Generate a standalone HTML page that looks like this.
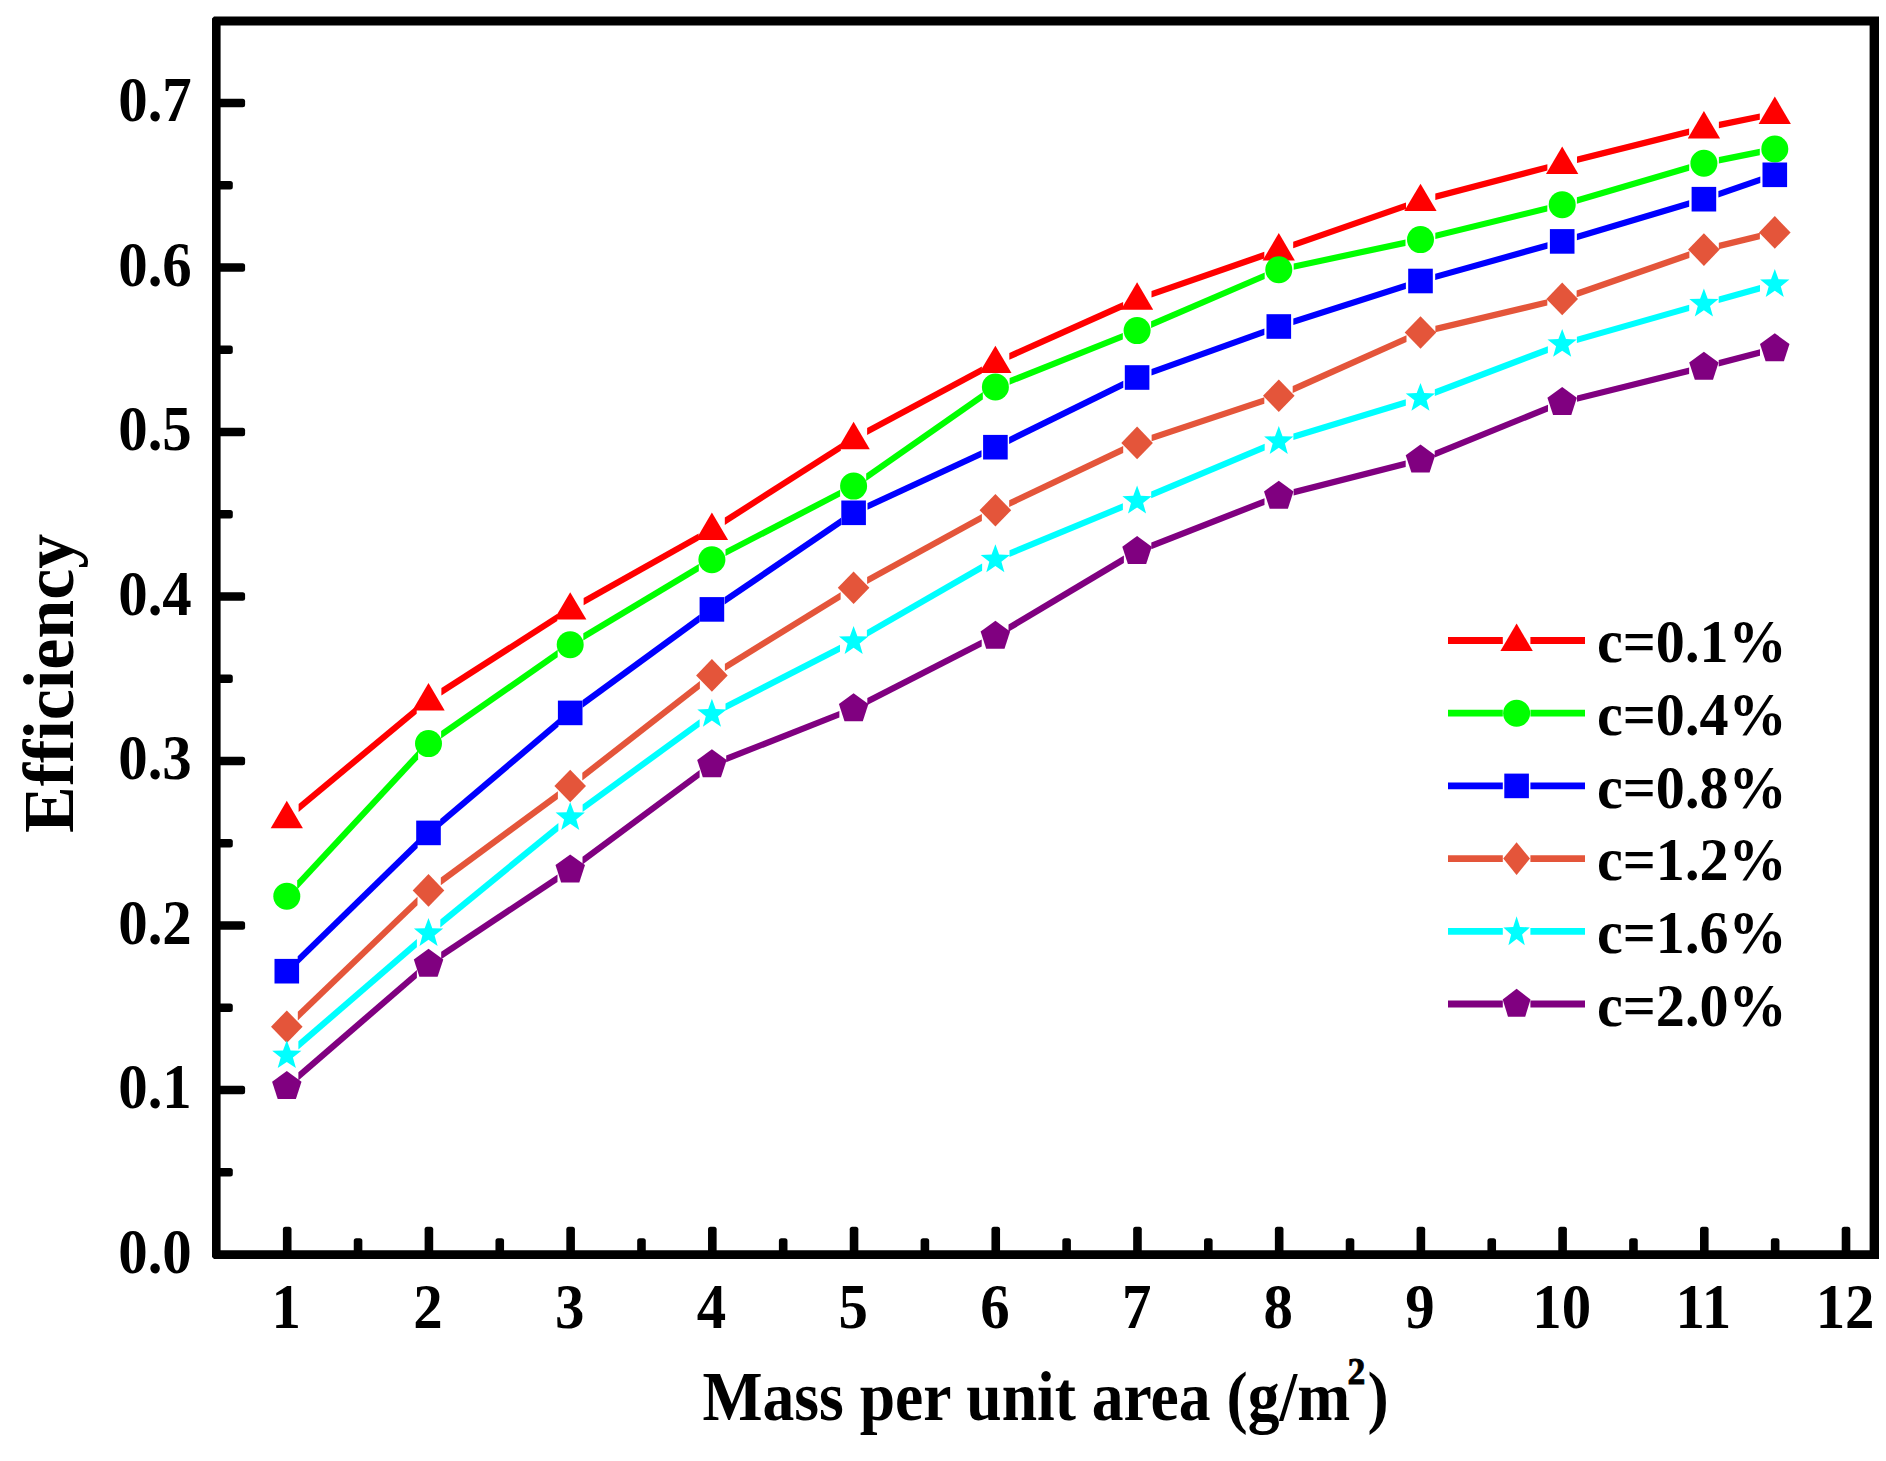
<!DOCTYPE html>
<html><head><meta charset="utf-8"><title>Efficiency vs mass per unit area</title>
<style>
html,body{margin:0;padding:0;background:#fff;}
body{width:1886px;height:1461px;overflow:hidden;}
svg{display:block;}
text{font-family:"Liberation Serif","Times New Roman",serif;font-weight:bold;fill:#000;}
</style></head><body>
<svg width="1886" height="1461" viewBox="0 0 1886 1461">
<rect width="1886" height="1461" fill="#fff"/>

<path fill="#000" fill-rule="evenodd" d="M214.0,16.4H1879.0V1259.0H214.0L212.0,1257.0V18.4ZM220.6,25.6V1250.3H1869.6V25.6Z"/>
<g fill="#000">
<rect x="217.6" y="1167.95" width="15.2" height="8.6" rx="2.5"/>
<rect x="217.6" y="1085.70" width="27.5" height="8.6" rx="2.5"/>
<rect x="217.6" y="1003.45" width="15.2" height="8.6" rx="2.5"/>
<rect x="217.6" y="921.20" width="27.5" height="8.6" rx="2.5"/>
<rect x="217.6" y="838.95" width="15.2" height="8.6" rx="2.5"/>
<rect x="217.6" y="756.70" width="27.5" height="8.6" rx="2.5"/>
<rect x="217.6" y="674.45" width="15.2" height="8.6" rx="2.5"/>
<rect x="217.6" y="592.20" width="27.5" height="8.6" rx="2.5"/>
<rect x="217.6" y="509.95" width="15.2" height="8.6" rx="2.5"/>
<rect x="217.6" y="427.70" width="27.5" height="8.6" rx="2.5"/>
<rect x="217.6" y="345.45" width="15.2" height="8.6" rx="2.5"/>
<rect x="217.6" y="263.20" width="27.5" height="8.6" rx="2.5"/>
<rect x="217.6" y="180.95" width="15.2" height="8.6" rx="2.5"/>
<rect x="217.6" y="98.70" width="27.5" height="8.6" rx="2.5"/>
<rect x="282.90" y="1226.8" width="8.6" height="26.5" rx="2.5"/>
<rect x="353.75" y="1238.3" width="8.6" height="15.0" rx="2.5"/>
<rect x="424.61" y="1226.8" width="8.6" height="26.5" rx="2.5"/>
<rect x="495.46" y="1238.3" width="8.6" height="15.0" rx="2.5"/>
<rect x="566.32" y="1226.8" width="8.6" height="26.5" rx="2.5"/>
<rect x="637.18" y="1238.3" width="8.6" height="15.0" rx="2.5"/>
<rect x="708.03" y="1226.8" width="8.6" height="26.5" rx="2.5"/>
<rect x="778.89" y="1238.3" width="8.6" height="15.0" rx="2.5"/>
<rect x="849.74" y="1226.8" width="8.6" height="26.5" rx="2.5"/>
<rect x="920.60" y="1238.3" width="8.6" height="15.0" rx="2.5"/>
<rect x="991.45" y="1226.8" width="8.6" height="26.5" rx="2.5"/>
<rect x="1062.31" y="1238.3" width="8.6" height="15.0" rx="2.5"/>
<rect x="1133.16" y="1226.8" width="8.6" height="26.5" rx="2.5"/>
<rect x="1204.02" y="1238.3" width="8.6" height="15.0" rx="2.5"/>
<rect x="1274.87" y="1226.8" width="8.6" height="26.5" rx="2.5"/>
<rect x="1345.73" y="1238.3" width="8.6" height="15.0" rx="2.5"/>
<rect x="1416.58" y="1226.8" width="8.6" height="26.5" rx="2.5"/>
<rect x="1487.44" y="1238.3" width="8.6" height="15.0" rx="2.5"/>
<rect x="1558.29" y="1226.8" width="8.6" height="26.5" rx="2.5"/>
<rect x="1629.15" y="1238.3" width="8.6" height="15.0" rx="2.5"/>
<rect x="1700.00" y="1226.8" width="8.6" height="26.5" rx="2.5"/>
<rect x="1770.86" y="1238.3" width="8.6" height="15.0" rx="2.5"/>
<rect x="1841.71" y="1226.8" width="8.6" height="26.5" rx="2.5"/>
</g>
<g font-size="64" text-anchor="end">
<text transform="translate(191.8,1272.9) scale(0.92,1)" font-size="64" text-anchor="end">0.0</text>
<text transform="translate(191.8,1108.4) scale(0.92,1)" font-size="64" text-anchor="end">0.1</text>
<text transform="translate(191.8,943.9) scale(0.92,1)" font-size="64" text-anchor="end">0.2</text>
<text transform="translate(191.8,779.4) scale(0.92,1)" font-size="64" text-anchor="end">0.3</text>
<text transform="translate(191.8,614.9) scale(0.92,1)" font-size="64" text-anchor="end">0.4</text>
<text transform="translate(191.8,450.4) scale(0.92,1)" font-size="64" text-anchor="end">0.5</text>
<text transform="translate(191.8,285.9) scale(0.92,1)" font-size="64" text-anchor="end">0.6</text>
<text transform="translate(191.8,121.4) scale(0.92,1)" font-size="64" text-anchor="end">0.7</text>
</g><g font-size="64" text-anchor="middle">
<text transform="translate(286.3,1327.5) scale(0.92,1)" font-size="64" text-anchor="middle">1</text>
<text transform="translate(428.0,1327.5) scale(0.92,1)" font-size="64" text-anchor="middle">2</text>
<text transform="translate(569.7,1327.5) scale(0.92,1)" font-size="64" text-anchor="middle">3</text>
<text transform="translate(711.4,1327.5) scale(0.92,1)" font-size="64" text-anchor="middle">4</text>
<text transform="translate(853.1,1327.5) scale(0.92,1)" font-size="64" text-anchor="middle">5</text>
<text transform="translate(994.9,1327.5) scale(0.92,1)" font-size="64" text-anchor="middle">6</text>
<text transform="translate(1136.6,1327.5) scale(0.92,1)" font-size="64" text-anchor="middle">7</text>
<text transform="translate(1278.3,1327.5) scale(0.92,1)" font-size="64" text-anchor="middle">8</text>
<text transform="translate(1420.0,1327.5) scale(0.92,1)" font-size="64" text-anchor="middle">9</text>
<text transform="translate(1561.7,1327.5) scale(0.92,1)" font-size="64" text-anchor="middle">10</text>
<text transform="translate(1703.4,1327.5) scale(0.92,1)" font-size="64" text-anchor="middle">11</text>
<text transform="translate(1845.1,1327.5) scale(0.92,1)" font-size="64" text-anchor="middle">12</text>
</g>
<text transform="translate(702.5,1419.7) scale(0.915,1)" font-size="69.5" text-anchor="start">Mass per unit area (g/m<tspan font-size="39" stroke="#000" stroke-width="0.9" dx="-3" dy="-36">2</tspan><tspan dx="2.5" dy="36">)</tspan></text>
<text transform="translate(72.5,833) rotate(-90) scale(0.972,1)" font-size="72">Efficiency</text>
<g fill="#FF0000">
<polygon points="298.6,804.0 416.7,705.7 416.7,713.8 298.6,812.0"/>
<polygon points="441.4,688.1 557.3,613.8 557.3,621.1 441.4,695.4"/>
<polygon points="583.6,598.1 698.6,533.4 698.6,540.5 583.6,605.2"/>
<polygon points="724.8,517.6 840.8,443.4 840.8,450.7 724.8,524.9"/>
<polygon points="867.1,428.0 981.9,366.4 981.9,373.4 867.1,435.1"/>
<polygon points="1009.3,353.0 1123.1,302.1 1123.1,308.9 1009.3,359.8"/>
<polygon points="1151.5,291.0 1264.3,251.8 1264.3,258.4 1151.5,297.6"/>
<polygon points="1293.2,241.8 1406.0,202.4 1406.0,209.0 1293.2,248.3"/>
<polygon points="1435.3,193.6 1547.4,164.2 1547.4,170.6 1435.3,200.0"/>
<polygon points="1577.0,156.6 1689.1,128.6 1689.1,135.0 1577.0,163.0"/>
<polygon points="1718.9,121.8 1759.8,113.4 1759.8,119.7 1718.9,128.2"/>
</g>
<polygon points="286.8,800.8 302.9,828.2 270.7,828.2" fill="#FF0000"/>
<polygon points="428.5,683.0 444.7,710.4 412.4,710.4" fill="#FF0000"/>
<polygon points="570.2,592.2 586.4,619.6 554.1,619.6" fill="#FF0000"/>
<polygon points="711.9,512.5 728.1,539.9 695.8,539.9" fill="#FF0000"/>
<polygon points="853.6,421.8 869.8,449.2 837.5,449.2" fill="#FF0000"/>
<polygon points="995.4,345.7 1011.5,373.1 979.2,373.1" fill="#FF0000"/>
<polygon points="1137.1,282.3 1153.2,309.7 1120.9,309.7" fill="#FF0000"/>
<polygon points="1278.8,233.1 1294.9,260.5 1262.6,260.5" fill="#FF0000"/>
<polygon points="1420.5,183.7 1436.6,211.1 1404.3,211.1" fill="#FF0000"/>
<polygon points="1562.2,146.5 1578.3,173.9 1546.0,173.9" fill="#FF0000"/>
<polygon points="1703.9,111.1 1720.1,138.5 1687.8,138.5" fill="#FF0000"/>
<polygon points="1774.8,96.5 1790.9,123.9 1758.6,123.9" fill="#FF0000"/>
<g fill="#00FF00">
<polygon points="297.2,880.5 418.1,750.3 418.1,759.4 297.2,889.6"/>
<polygon points="441.1,731.1 557.7,649.8 557.7,657.3 441.1,738.6"/>
<polygon points="583.3,633.3 698.8,564.0 698.8,571.2 583.3,640.5"/>
<polygon points="725.5,549.2 840.1,489.7 840.1,496.6 725.5,556.1"/>
<polygon points="866.2,473.5 982.8,392.0 982.8,399.6 866.2,481.1"/>
<polygon points="1009.6,378.0 1122.8,332.9 1122.8,339.6 1009.6,384.7"/>
<polygon points="1151.1,321.2 1264.7,272.4 1264.7,279.1 1151.1,327.9"/>
<polygon points="1293.7,263.4 1405.5,239.6 1405.5,245.9 1293.7,269.7"/>
<polygon points="1435.3,232.8 1547.3,205.3 1547.3,211.6 1435.3,239.1"/>
<polygon points="1576.9,197.3 1689.2,164.3 1689.2,170.7 1576.9,203.7"/>
<polygon points="1718.9,157.0 1759.8,148.8 1759.8,155.2 1718.9,163.4"/>
</g>
<circle cx="286.8" cy="896.3" r="13.5" fill="#00FF00"/>
<circle cx="428.5" cy="743.6" r="13.5" fill="#00FF00"/>
<circle cx="570.2" cy="644.8" r="13.5" fill="#00FF00"/>
<circle cx="711.9" cy="559.7" r="13.5" fill="#00FF00"/>
<circle cx="853.6" cy="486.1" r="13.5" fill="#00FF00"/>
<circle cx="995.4" cy="387.0" r="13.5" fill="#00FF00"/>
<circle cx="1137.1" cy="330.6" r="13.5" fill="#00FF00"/>
<circle cx="1278.8" cy="269.7" r="13.5" fill="#00FF00"/>
<circle cx="1420.5" cy="239.6" r="13.5" fill="#00FF00"/>
<circle cx="1562.2" cy="204.8" r="13.5" fill="#00FF00"/>
<circle cx="1703.9" cy="163.2" r="13.5" fill="#00FF00"/>
<circle cx="1774.8" cy="149.0" r="13.5" fill="#00FF00"/>
<g fill="#0000FF">
<polygon points="297.7,956.2 417.6,839.3 417.6,847.9 297.7,964.8"/>
<polygon points="440.2,819.0 558.5,718.7 558.5,726.8 440.2,827.1"/>
<polygon points="582.6,700.0 699.6,614.6 699.6,622.3 582.6,707.7"/>
<polygon points="724.6,597.0 841.0,517.7 841.0,525.2 724.6,604.5"/>
<polygon points="867.5,503.0 981.5,450.2 981.5,457.0 867.5,509.8"/>
<polygon points="1009.1,437.0 1123.3,380.8 1123.3,387.7 1009.1,443.9"/>
<polygon points="1151.5,369.0 1264.4,328.4 1264.4,335.0 1151.5,375.6"/>
<polygon points="1293.3,318.6 1405.9,282.4 1405.9,288.9 1293.3,325.1"/>
<polygon points="1435.2,273.7 1547.5,242.3 1547.5,248.7 1435.2,280.1"/>
<polygon points="1576.9,233.8 1689.2,200.3 1689.2,206.8 1576.9,240.3"/>
<polygon points="1718.4,190.9 1760.3,176.5 1760.3,183.1 1718.4,197.5"/>
</g>
<rect x="274.5" y="958.9" width="24.6" height="24.6" fill="#0000FF"/>
<rect x="416.2" y="820.6" width="24.6" height="24.6" fill="#0000FF"/>
<rect x="557.9" y="700.6" width="24.6" height="24.6" fill="#0000FF"/>
<rect x="699.6" y="597.1" width="24.6" height="24.6" fill="#0000FF"/>
<rect x="841.3" y="500.5" width="24.6" height="24.6" fill="#0000FF"/>
<rect x="983.1" y="434.9" width="24.6" height="24.6" fill="#0000FF"/>
<rect x="1124.8" y="365.2" width="24.6" height="24.6" fill="#0000FF"/>
<rect x="1266.5" y="314.2" width="24.6" height="24.6" fill="#0000FF"/>
<rect x="1408.2" y="268.7" width="24.6" height="24.6" fill="#0000FF"/>
<rect x="1549.9" y="229.1" width="24.6" height="24.6" fill="#0000FF"/>
<rect x="1691.6" y="186.9" width="24.6" height="24.6" fill="#0000FF"/>
<rect x="1762.5" y="162.5" width="24.6" height="24.6" fill="#0000FF"/>
<g fill="#E4553A">
<polygon points="297.8,1011.8 417.5,896.7 417.5,905.3 297.8,1020.4"/>
<polygon points="440.8,877.5 557.9,791.2 557.9,798.9 440.8,885.2"/>
<polygon points="582.3,772.7 699.9,680.9 699.9,688.7 582.3,780.5"/>
<polygon points="724.9,663.7 840.6,592.2 840.6,599.5 724.9,671.0"/>
<polygon points="867.1,576.9 981.9,514.0 981.9,521.1 867.1,584.0"/>
<polygon points="1009.2,500.2 1123.2,446.0 1123.2,452.9 1009.2,507.1"/>
<polygon points="1151.6,434.8 1264.3,397.3 1264.3,403.8 1151.6,441.3"/>
<polygon points="1292.7,386.1 1406.5,335.3 1406.5,342.1 1292.7,392.9"/>
<polygon points="1435.4,325.8 1547.3,299.2 1547.3,305.6 1435.4,332.2"/>
<polygon points="1576.6,290.6 1689.4,251.3 1689.4,257.9 1576.6,297.2"/>
<polygon points="1718.8,242.8 1759.9,232.8 1759.9,239.2 1718.8,249.2"/>
</g>
<polygon points="286.8,1010.4 302.6,1026.7 286.8,1043.0 271.0,1026.7" fill="#E4553A"/>
<polygon points="428.5,874.1 444.3,890.4 428.5,906.7 412.7,890.4" fill="#E4553A"/>
<polygon points="570.2,769.7 586.0,786.0 570.2,802.3 554.4,786.0" fill="#E4553A"/>
<polygon points="711.9,659.1 727.7,675.4 711.9,691.7 696.1,675.4" fill="#E4553A"/>
<polygon points="853.6,571.5 869.4,587.8 853.6,604.1 837.8,587.8" fill="#E4553A"/>
<polygon points="995.4,493.9 1011.2,510.2 995.4,526.5 979.6,510.2" fill="#E4553A"/>
<polygon points="1137.1,426.6 1152.9,442.9 1137.1,459.2 1121.3,442.9" fill="#E4553A"/>
<polygon points="1278.8,379.4 1294.6,395.7 1278.8,412.0 1263.0,395.7" fill="#E4553A"/>
<polygon points="1420.5,316.2 1436.3,332.5 1420.5,348.8 1404.7,332.5" fill="#E4553A"/>
<polygon points="1562.2,282.6 1578.0,298.9 1562.2,315.2 1546.4,298.9" fill="#E4553A"/>
<polygon points="1703.9,233.3 1719.7,249.6 1703.9,265.9 1688.1,249.6" fill="#E4553A"/>
<polygon points="1774.8,216.1 1790.6,232.4 1774.8,248.7 1759.0,232.4" fill="#E4553A"/>
<g fill="#00FFFF">
<polygon points="298.4,1041.3 416.9,939.1 416.9,947.3 298.4,1049.5"/>
<polygon points="440.3,919.5 558.4,822.9 558.4,830.9 440.3,927.5"/>
<polygon points="582.6,804.4 699.6,719.2 699.6,726.8 582.6,812.0"/>
<polygon points="725.5,703.5 840.0,644.7 840.0,651.7 725.5,710.5"/>
<polygon points="866.9,630.0 982.1,563.6 982.1,570.7 866.9,637.1"/>
<polygon points="1009.5,550.3 1122.9,503.3 1122.9,510.0 1009.5,557.0"/>
<polygon points="1151.2,491.5 1264.7,443.8 1264.7,450.5 1151.2,498.2"/>
<polygon points="1293.4,433.5 1405.8,399.3 1405.8,405.8 1293.4,440.0"/>
<polygon points="1434.8,389.3 1547.9,346.2 1547.9,352.9 1434.8,396.0"/>
<polygon points="1576.9,336.7 1689.2,304.7 1689.2,311.1 1576.9,343.1"/>
<polygon points="1718.7,296.4 1760.0,285.0 1760.0,291.5 1718.7,302.9"/>
</g>
<polygon points="286.8,1040.2 290.6,1050.4 301.4,1050.8 292.9,1057.6 295.9,1068.1 286.8,1062.0 277.7,1068.1 280.7,1057.6 272.2,1050.8 283.0,1050.4" fill="#00FFFF"/>
<polygon points="428.5,918.0 432.3,928.2 443.2,928.6 434.6,935.4 437.6,945.9 428.5,939.8 419.5,945.9 422.4,935.4 413.9,928.6 424.7,928.2" fill="#00FFFF"/>
<polygon points="570.2,802.0 574.0,812.2 584.9,812.6 576.3,819.4 579.3,829.9 570.2,823.8 561.2,829.9 564.1,819.4 555.6,812.6 566.5,812.2" fill="#00FFFF"/>
<polygon points="711.9,698.8 715.7,709.0 726.6,709.4 718.0,716.2 721.0,726.7 711.9,720.6 702.9,726.7 705.8,716.2 697.3,709.4 708.2,709.0" fill="#00FFFF"/>
<polygon points="853.6,626.0 857.4,636.2 868.3,636.6 859.7,643.4 862.7,653.9 853.6,647.8 844.6,653.9 847.6,643.4 839.0,636.6 849.9,636.2" fill="#00FFFF"/>
<polygon points="995.4,544.3 999.1,554.5 1010.0,554.9 1001.4,561.7 1004.4,572.2 995.4,566.1 986.3,572.2 989.3,561.7 980.7,554.9 991.6,554.5" fill="#00FFFF"/>
<polygon points="1137.1,485.6 1140.8,495.8 1151.7,496.2 1143.1,503.0 1146.1,513.5 1137.1,507.4 1128.0,513.5 1131.0,503.0 1122.4,496.2 1133.3,495.8" fill="#00FFFF"/>
<polygon points="1278.8,426.0 1282.5,436.2 1293.4,436.6 1284.9,443.4 1287.8,453.9 1278.8,447.8 1269.7,453.9 1272.7,443.4 1264.1,436.6 1275.0,436.2" fill="#00FFFF"/>
<polygon points="1420.5,382.9 1424.2,393.1 1435.1,393.5 1426.6,400.3 1429.5,410.8 1420.5,404.7 1411.4,410.8 1414.4,400.3 1405.8,393.5 1416.7,393.1" fill="#00FFFF"/>
<polygon points="1562.2,328.9 1566.0,339.1 1576.8,339.5 1568.3,346.3 1571.2,356.8 1562.2,350.7 1553.1,356.8 1556.1,346.3 1547.5,339.5 1558.4,339.1" fill="#00FFFF"/>
<polygon points="1703.9,288.5 1707.7,298.7 1718.5,299.1 1710.0,305.9 1713.0,316.4 1703.9,310.3 1694.8,316.4 1697.8,305.9 1689.3,299.1 1700.1,298.7" fill="#00FFFF"/>
<polygon points="1774.8,269.0 1778.5,279.2 1789.4,279.6 1780.8,286.4 1783.8,296.9 1774.8,290.8 1765.7,296.9 1768.7,286.4 1760.1,279.6 1771.0,279.2" fill="#00FFFF"/>
<g fill="#800080">
<polygon points="298.4,1072.2 416.9,969.9 416.9,978.1 298.4,1080.4"/>
<polygon points="441.2,951.8 557.5,874.5 557.5,881.9 441.2,959.2"/>
<polygon points="582.5,856.7 699.6,769.9 699.6,777.6 582.5,864.4"/>
<polygon points="726.2,755.6 839.4,710.9 839.4,717.6 726.2,762.3"/>
<polygon points="867.3,698.1 981.7,639.5 981.7,646.5 867.3,705.1"/>
<polygon points="1008.5,624.5 1123.9,555.6 1123.9,562.9 1008.5,631.8"/>
<polygon points="1151.3,542.5 1264.5,498.2 1264.5,504.9 1151.3,549.2"/>
<polygon points="1293.6,489.0 1405.7,460.5 1405.7,466.9 1293.6,495.4"/>
<polygon points="1434.7,450.8 1548.0,404.7 1548.0,411.4 1434.7,457.5"/>
<polygon points="1577.0,395.4 1689.1,367.6 1689.1,374.0 1577.0,401.8"/>
<polygon points="1718.7,360.0 1760.0,349.3 1760.0,355.7 1718.7,366.4"/>
</g>
<polygon points="286.8,1071.0 301.5,1081.7 295.9,1099.0 277.7,1099.0 272.1,1081.7" fill="#800080"/>
<polygon points="428.5,948.7 443.3,959.4 437.6,976.7 419.4,976.7 413.8,959.4" fill="#800080"/>
<polygon points="570.2,854.4 585.0,865.1 579.3,882.4 561.1,882.4 555.5,865.1" fill="#800080"/>
<polygon points="711.9,749.3 726.7,760.0 721.0,777.3 702.8,777.3 697.2,760.0" fill="#800080"/>
<polygon points="853.6,693.3 868.4,704.0 862.8,721.3 844.5,721.3 838.9,704.0" fill="#800080"/>
<polygon points="995.4,620.7 1010.1,631.4 1004.5,648.7 986.2,648.7 980.6,631.4" fill="#800080"/>
<polygon points="1137.1,536.1 1151.8,546.8 1146.2,564.1 1127.9,564.1 1122.3,546.8" fill="#800080"/>
<polygon points="1278.8,480.7 1293.5,491.4 1287.9,508.7 1269.7,508.7 1264.0,491.4" fill="#800080"/>
<polygon points="1420.5,444.6 1435.2,455.3 1429.6,472.6 1411.4,472.6 1405.7,455.3" fill="#800080"/>
<polygon points="1562.2,387.0 1576.9,397.7 1571.3,415.0 1553.1,415.0 1547.4,397.7" fill="#800080"/>
<polygon points="1703.9,351.8 1718.6,362.5 1713.0,379.8 1694.8,379.8 1689.2,362.5" fill="#800080"/>
<polygon points="1774.8,333.3 1789.5,344.0 1783.9,361.3 1765.6,361.3 1760.0,344.0" fill="#800080"/>
<g stroke="#FF0000" stroke-width="6.8"><line x1="1448" y1="640.5" x2="1502.8" y2="640.5"/><line x1="1530.4" y1="640.5" x2="1585" y2="640.5"/></g>
<polygon points="1516.6,623.5 1532.8,650.9 1500.4,650.9" fill="#FF0000"/>
<text transform="translate(1597.0,662.2) scale(0.96,1)" font-size="60.5" text-anchor="start">c=0.1%</text>
<g stroke="#00FF00" stroke-width="6.8"><line x1="1448" y1="713.2" x2="1502.8" y2="713.2"/><line x1="1530.4" y1="713.2" x2="1585" y2="713.2"/></g>
<circle cx="1516.6" cy="713.2" r="13.5" fill="#00FF00"/>
<text transform="translate(1597.0,734.9) scale(0.96,1)" font-size="60.5" text-anchor="start">c=0.4%</text>
<g stroke="#0000FF" stroke-width="6.8"><line x1="1448" y1="785.9" x2="1502.8" y2="785.9"/><line x1="1530.4" y1="785.9" x2="1585" y2="785.9"/></g>
<rect x="1504.3" y="773.6" width="24.6" height="24.6" fill="#0000FF"/>
<text transform="translate(1597.0,807.6) scale(0.96,1)" font-size="60.5" text-anchor="start">c=0.8%</text>
<g stroke="#E4553A" stroke-width="6.8"><line x1="1448" y1="858.6" x2="1502.8" y2="858.6"/><line x1="1530.4" y1="858.6" x2="1585" y2="858.6"/></g>
<polygon points="1516.6,842.3 1530.0,858.6 1516.6,874.9 1503.2,858.6" fill="#E4553A"/>
<text transform="translate(1597.0,880.3) scale(0.96,1)" font-size="60.5" text-anchor="start">c=1.2%</text>
<g stroke="#00FFFF" stroke-width="6.8"><line x1="1448" y1="931.3" x2="1502.8" y2="931.3"/><line x1="1530.4" y1="931.3" x2="1585" y2="931.3"/></g>
<polygon points="1516.6,916.3 1520.0,926.9 1529.8,927.4 1522.1,934.4 1524.8,945.2 1516.6,939.0 1508.4,945.2 1511.1,934.4 1503.4,927.4 1513.2,926.9" fill="#00FFFF"/>
<text transform="translate(1597.0,953.0) scale(0.96,1)" font-size="60.5" text-anchor="start">c=1.6%</text>
<g stroke="#800080" stroke-width="6.8"><line x1="1448" y1="1004" x2="1502.8" y2="1004"/><line x1="1530.4" y1="1004" x2="1585" y2="1004"/></g>
<polygon points="1516.6,988.7 1530.5,999.4 1525.2,1016.7 1508.0,1016.7 1502.7,999.4" fill="#800080"/>
<text transform="translate(1597.0,1025.7) scale(0.96,1)" font-size="60.5" text-anchor="start">c=2.0%</text>
</svg></body></html>
